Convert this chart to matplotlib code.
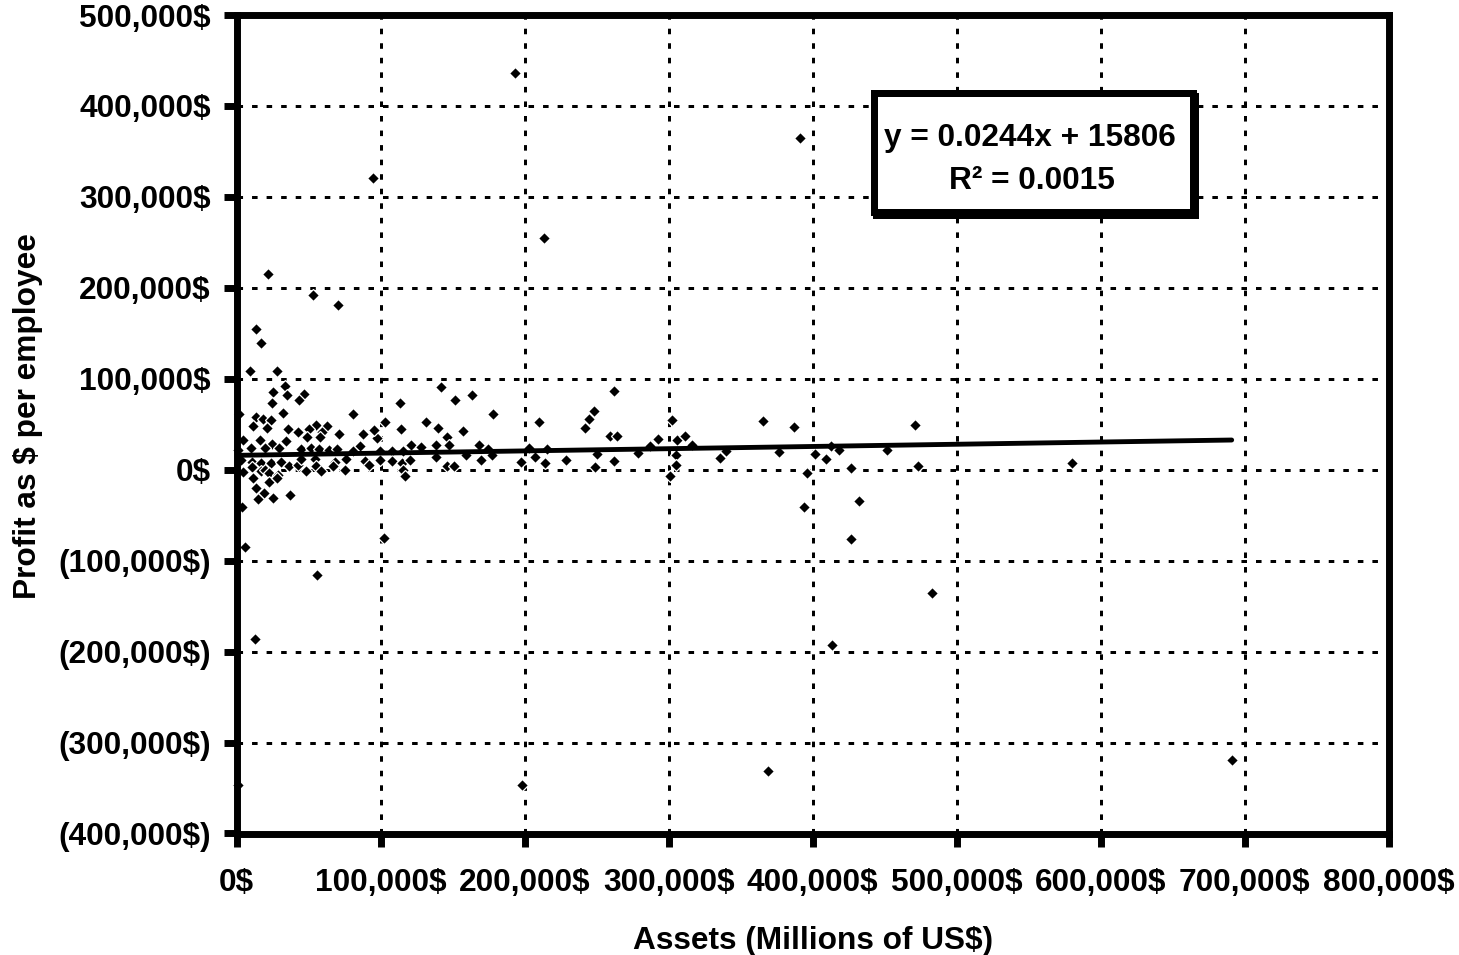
import matplotlib
matplotlib.use('Agg')
import matplotlib.pyplot as plt
from matplotlib.patches import Rectangle

plt.rcParams['font.family'] = ['Liberation Sans', 'DejaVu Sans']
plt.rcParams['font.weight'] = 'bold'

# ---------------- data ----------------
assets = [
    193400, 391000, 94600, 213600, 21800, 52900, 70700, 13700, 16700, 9700,
    28300, 33600, 25300, 35200, 46800, 43100, 24800, 1500, 13500, 32000,
    80600, 113600, 18100, 23900, 11200, 21400, 103300, 114000, 36000, 55300,
    63000, 50500, 42400, 59100, 48700, 58200, 71000, 87500, 97200, 95500,
    4300, 16100, 34600, 24300, 10000, 20000, 29700, 44900, 51900, 57400,
    64500, 700, 69700, 85600, 81000, 99500, 107600, 115300, 120800, 3000,
    11100, 16900, 23900, 30800, 36600, 42400, 45000, 54300, 48200, 55200,
    59000, 68500, 67000, 76300, 75100, 89000, 92000, 99500, 107600, 114600,
    120300, 115300, 117000, 4200, 11100, 16900, 19500, 22700, 28500, 11800,
    22700, 28000, 13500, 19300, 14600, 25100, 36800, 3700, 102500, 6000,
    12500, 55700, 700, 198300, 368700, 690800, 482800, 413200, 426800, 432100,
    141900, 151400, 163700, 178100, 131300, 139800, 146100, 157200, 127800, 138700,
    147500, 168300, 138700, 145900, 151200, 159500, 170000, 174400, 177600, 197300,
    203100, 207500, 210300, 213800, 215400, 228900, 241600, 244400, 247900, 249900,
    249000, 262300, 259500, 264300, 261800, 279000, 287300, 292600, 302400, 305600,
    311200, 316500, 304900, 305400, 301000, 335500, 339500, 365500, 386700, 471100,
    376700, 401300, 409000, 412700, 418000, 451700, 426800, 472900, 396000, 393900,
    579800,
]
profit = [
    436200, 364700, 320700, 254700, 215400, 191600, 180600, 154900, 139500, 108400,
    108400, 92600, 85600, 82000, 83800, 76300, 73800, 61000, 58000, 62000,
    61800, 73400, 55900, 54500, 48500, 45500, 52500, 44900, 45300, 49300,
    47700, 45300, 41000, 41300, 36300, 36500, 39000, 39600, 35000, 43500,
    32300, 32300, 31500, 28400, 24000, 24000, 24000, 23000, 23600, 23300,
    22200, 22200, 23000, 26600, 21100, 21100, 21100, 21100, 27000, 10500,
    8300, 7500, 7500, 8300, 4600, 5700, 11500, 11500, -1600, 3900,
    -900, 9000, 3900, 11900, -500, 9400, 5700, 11200, 9400, 7500,
    11200, 200, -7300, -2800, 3100, -1600, 200, -3500, -5300, -9000,
    -13800, -9000, -20300, -25500, -32500, -31200, -28100, -40500, -75000, -84900,
    -186500, -116300, -347000, -347000, -331700, -319600, -135800, -193000, -75900, -34400,
    90800, 76800, 82700, 61100, 52300, 45700, 36500, 42700, 24800, 27700,
    27000, 27000, 14100, 3900, 3900, 16700, 11200, 22600, 16000, 9000,
    24000, 14500, 53000, 7500, 23300, 10500, 46400, 55900, 64400, 17800,
    3100, 86400, 36900, 37600, 9400, 18500, 26600, 33600, 54500, 32500,
    37600, 27700, 16000, 5300, -7200, 12700, 20400, 54100, 47000, 49300,
    20000, 17400, 11900, 25900, 22200, 22200, 1500, 4400, -3700, -41500,
    7400,
]

trend_slope = 0.0244
trend_intercept = 15806
equation_text = "y = 0.0244x + 15806"
r2_text = "R\u00b2 = 0.0015"

x_ticks = [0, 100000, 200000, 300000, 400000, 500000, 600000, 700000, 800000]
x_tick_labels = ["0$", "100,000$", "200,000$", "300,000$", "400,000$",
                 "500,000$", "600,000$", "700,000$", "800,000$"]
y_ticks = [-400000, -300000, -200000, -100000, 0, 100000, 200000, 300000, 400000, 500000]
y_tick_labels = ["(400,000$)", "(300,000$)", "(200,000$)", "(100,000$)", "0$",
                 "100,000$", "200,000$", "300,000$", "400,000$", "500,000$"]

x_title = "Assets (Millions of US$)"
y_title = "Profit as $ per employee"

# ---------------- figure ----------------
W, H = 1459, 955
FS = 22.8
fig = plt.figure(figsize=(W / 100, H / 100), dpi=100)
L, R, T, B = 236.5, 1389, 15, 833.5
ax = fig.add_axes([L / W, 1 - B / H, (R - L) / W, (B - T) / H])

ax.set_xlim(0, 800000)
ax.set_ylim(-400000, 500000)
ax.set_xticks(x_ticks)
ax.set_xticklabels(x_tick_labels)
ax.set_yticks(y_ticks)
ax.set_yticklabels(y_tick_labels)

ax.grid(True, color='black', linewidth=2.16, linestyle=(0, (1.85, 3.0)))
ax.set_axisbelow(True)

for sp in ax.spines.values():
    sp.set_linewidth(5.0)
    sp.set_capstyle('projecting')
    sp.set_zorder(4)

ax.tick_params(axis='both', direction='out', length=9.5, width=5.0,
               labelsize=FS, color='black')
ax.tick_params(axis='x', pad=15.5)
ax.tick_params(axis='y', pad=9.0)
for lab in ax.get_xticklabels() + ax.get_yticklabels():
    lab.set_fontweight('bold')

ax.plot(assets, profit, linestyle='none', marker='D', markersize=6.4,
        markerfacecolor='black', markeredgecolor='white', markeredgewidth=0.9,
        zorder=3, clip_on=False)

xmin, xmax = min(assets), max(assets)
ax.plot([xmin, xmax],
        [trend_slope * xmin + trend_intercept, trend_slope * xmax + trend_intercept],
        color='black', linewidth=3.5, solid_capstyle='round', zorder=3.5)

# equation box with shadow
bx0, by0, bx1, by1 = 870, 90, 1196, 216
sh = 3
fig.add_artist(Rectangle(((bx0 + sh) / W, 1 - (by1 + sh) / H), (bx1 - bx0) / W, (by1 - by0) / H,
                         transform=fig.transFigure, facecolor='black', edgecolor='none', zorder=5))
lw_px = 7
fig.add_artist(Rectangle(((bx0 + lw_px / 2) / W, 1 - (by1 - lw_px / 2) / H),
                         (bx1 - bx0 - lw_px) / W, (by1 - by0 - lw_px) / H,
                         transform=fig.transFigure, facecolor='white', edgecolor='black',
                         linewidth=lw_px * 0.72, joinstyle='miter', zorder=6))
fig.text(1030 / W, 1 - 146 / H, equation_text, ha='center', va='baseline',
         fontsize=FS, fontweight='bold', zorder=7)
fig.text(1032 / W, 1 - 189 / H, r2_text, ha='center', va='baseline',
         fontsize=FS, fontweight='bold', zorder=7)

fig.text(((L + R) / 2) / W, 1 - 948.5 / H, x_title, ha='center', va='baseline',
         fontsize=FS, fontweight='bold')
fig.text(28 / W, 1 - 416.5 / H, y_title, rotation=90, ha='center', va='center',
         fontsize=FS, fontweight='bold')

fig.savefig('out.png', dpi=100, facecolor='white')
